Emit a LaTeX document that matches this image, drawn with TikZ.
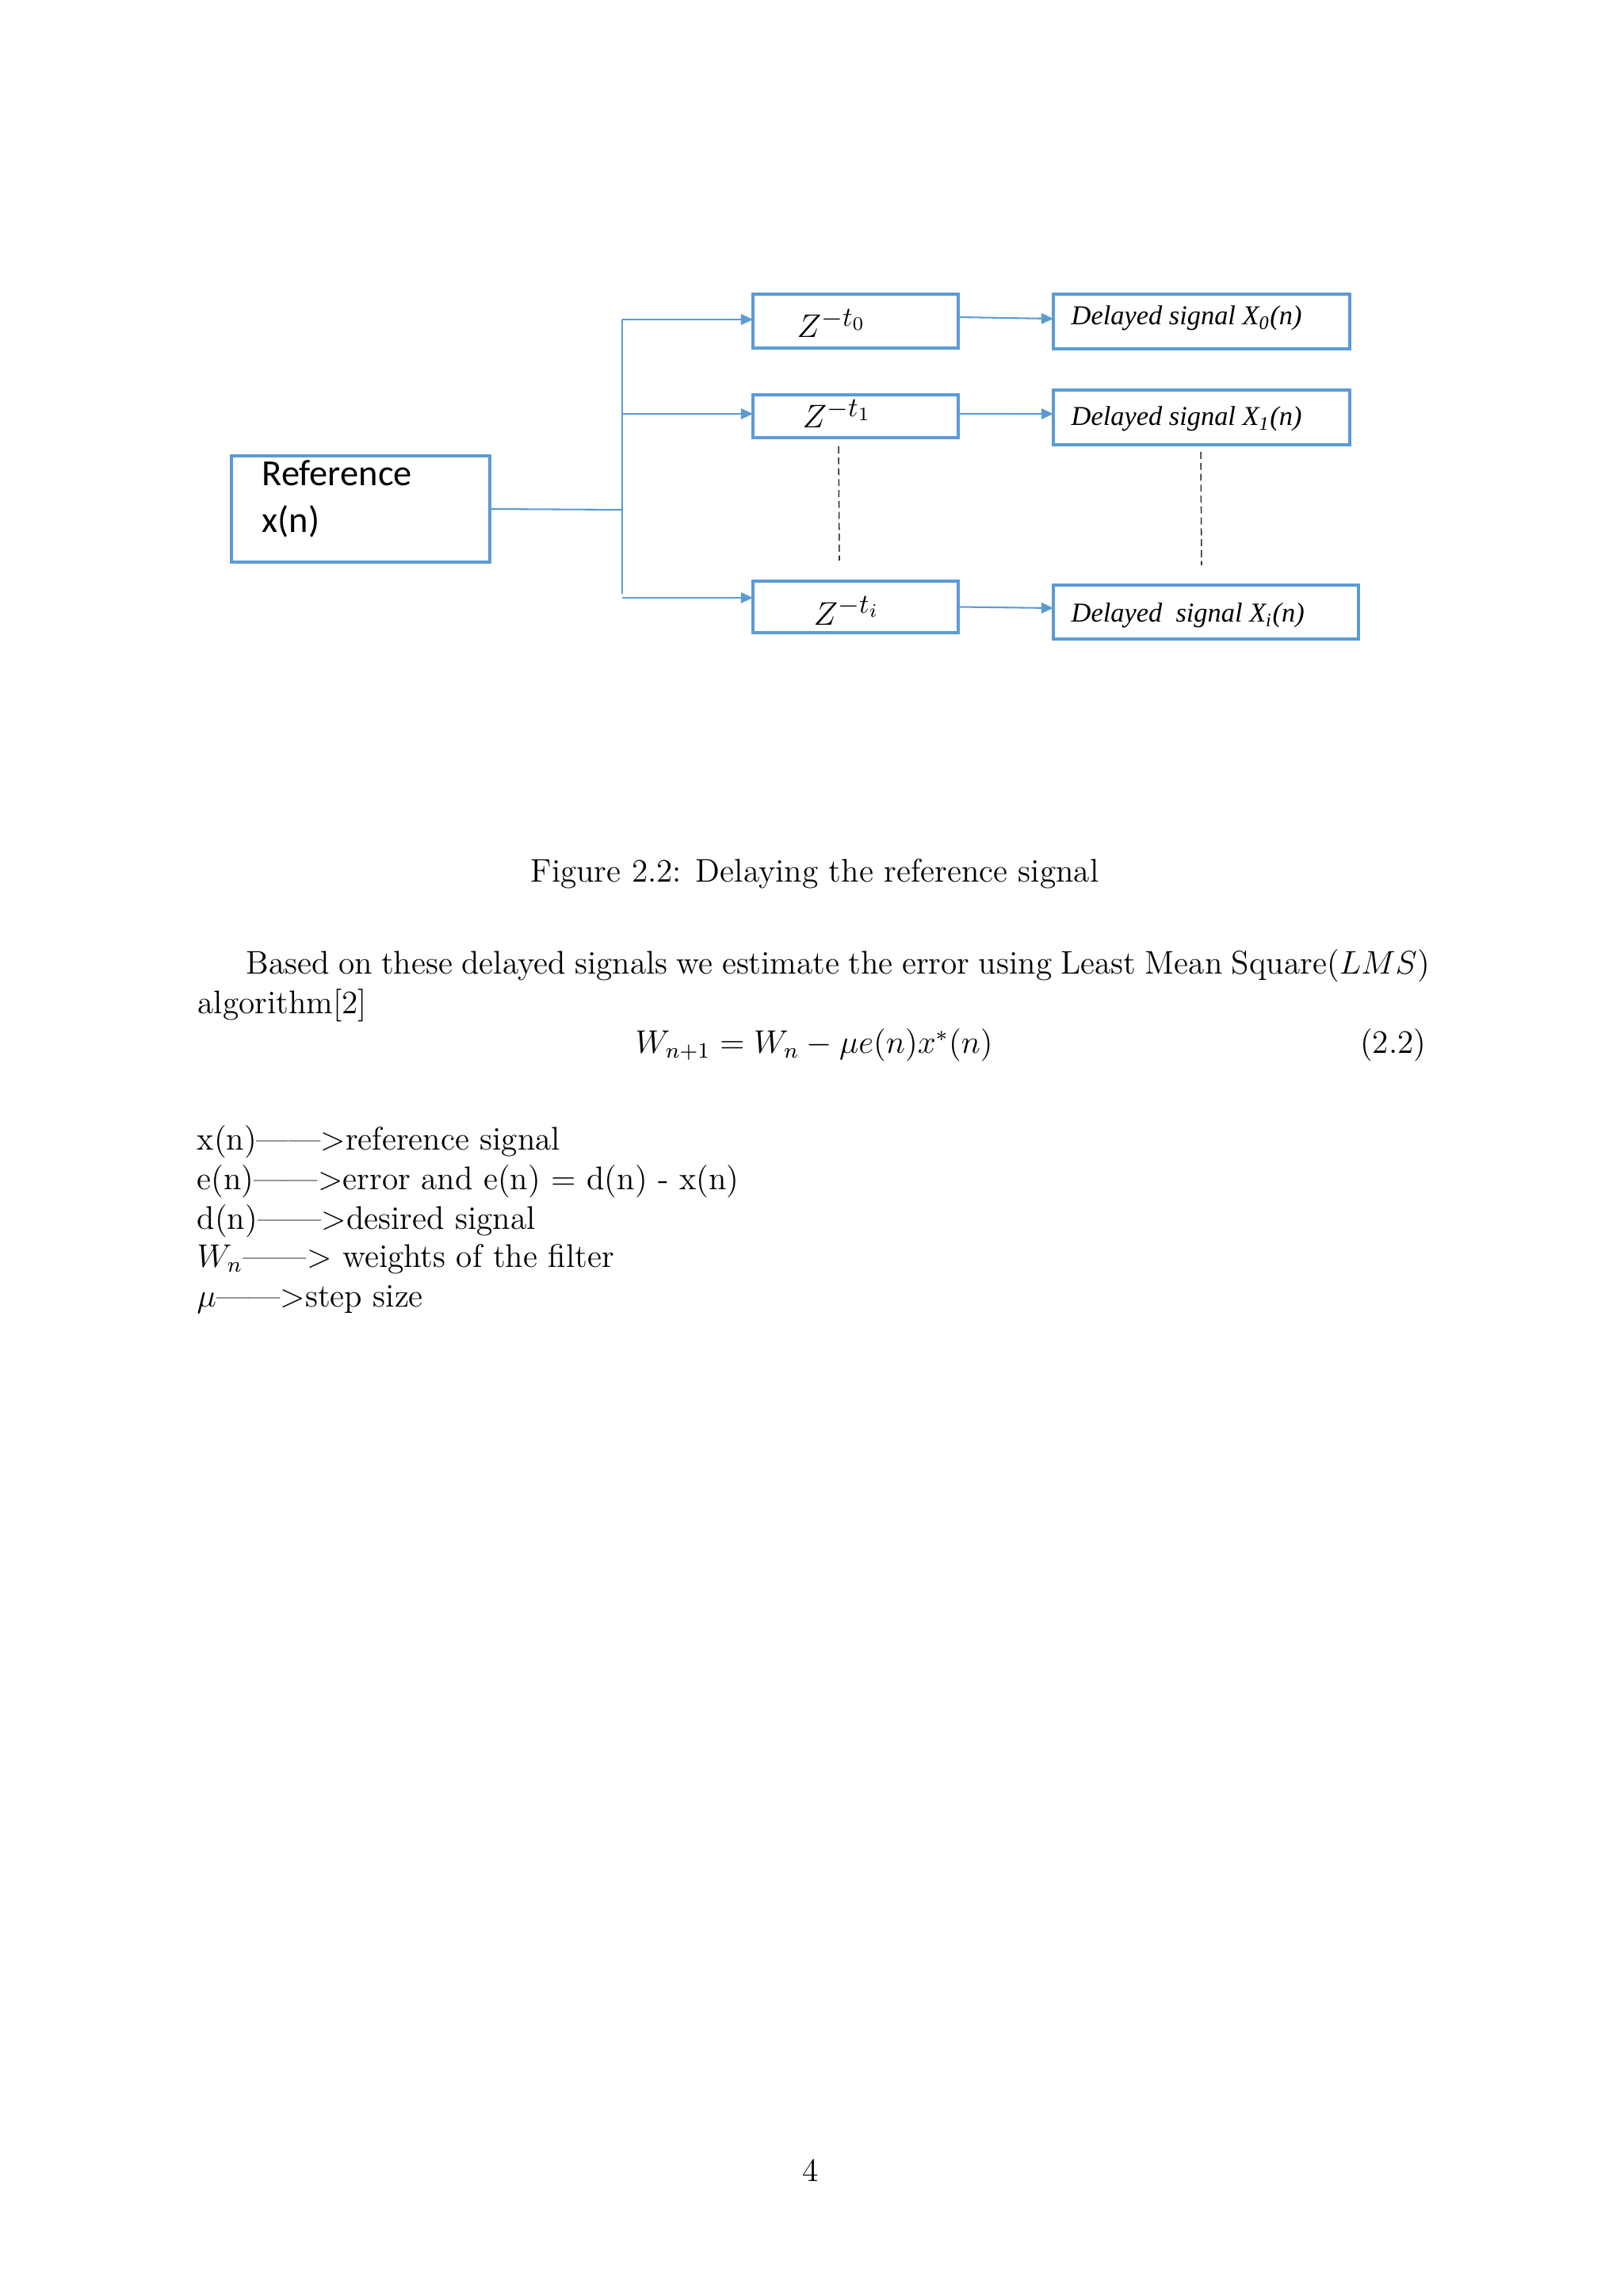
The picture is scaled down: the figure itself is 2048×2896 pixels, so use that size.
\documentclass[tikz,border=0pt]{standalone}
\usepackage{fontspec}
\newfontfamily\calfont{Carlito}
\newfontfamily\camfont{Liberation Serif}
\usetikzlibrary{arrows.meta}
\definecolor{boxblue}{HTML}{5B9BD5}
\DeclareMathSizes{12.5}{12.5}{9.8}{7.5}
\begin{document}
\begin{tikzpicture}[x=0.29068pt, y=-0.29068pt,
  box/.style={draw=boxblue, line width=1pt, inner sep=0pt, outer sep=0pt, rectangle},
  conn/.style={draw=boxblue, line width=0.6pt},
  arr/.style={conn, -{Triangle[length=4.4pt,width=3.9pt]}},
  dots/.style={draw=black!80, line width=0.45pt, dash pattern=on 2.6pt off 1.4pt},
  body/.style={font=\fontsize{12}{14.5}\selectfont, inner sep=0pt, anchor=base west},
  dlab/.style={font=\camfont\itshape\fontsize{10}{12}\selectfont, inner sep=0pt, anchor=base west},
  zlab/.style={font=\fontsize{12.5}{15}\selectfont, inner sep=0pt, anchor=base west},
  rlab/.style={font=\calfont\fontsize{13.5}{16}\selectfont, inner sep=0pt, anchor=base west}]
\useasboundingbox[fill=white] (0,0) rectangle (2048,2896);

% boxes
\node[box, minimum width={326*0.29068pt}, minimum height={134*0.29068pt}] (ref) at (455,642) {};
\node[box, minimum width={259*0.29068pt}, minimum height={68*0.29068pt}] (z0) at (1079.5,405) {};
\node[box, minimum width={259*0.29068pt}, minimum height={54*0.29068pt}] (z1) at (1079.5,525) {};
\node[box, minimum width={259*0.29068pt}, minimum height={65*0.29068pt}] (zi) at (1079.5,765.5) {};
\node[box, minimum width={374*0.29068pt}, minimum height={69*0.29068pt}] (d0) at (1516,405.5) {};
\node[box, minimum width={374*0.29068pt}, minimum height={69*0.29068pt}] (d1) at (1516,526.5) {};
\node[box, minimum width={385*0.29068pt}, minimum height={68*0.29068pt}] (di) at (1521.5,772) {};

% box texts
\node[rlab] (reft1) at (330,613) {Reference};
\node[rlab] (reft2) at (330,672) {x(n)};
\node[zlab] (z0t) at (1005,426) {$Z^{-t_0}$};
\node[zlab] (z1t) at (1012,540) {$Z^{-t_1}$};
\node[zlab] (zit) at (1026,788) {$Z^{-t_i}$};
\node[dlab] (d0t) at (1351,410) {Delayed signal X\textsubscript{0}(n)};
\node[dlab] (d1t) at (1351,537) {Delayed signal X\textsubscript{1}(n)};
\node[dlab] (dit) at (1351,785) {Delayed\ \ signal X\textsubscript{i}(n)};

% connectors
\coordinate (sp) at (785,643);
\coordinate (b0) at (785,403);
\coordinate (b1) at (785,522);
\coordinate (bi) at (785,754);
\coordinate (bend) at (785,749);
\draw[conn] (ref.east) -- (sp);
\draw[conn] (b0) -- (bend);
\draw[arr] (b0) -- (b0 -| z0.west);
\draw[arr] (b1) -- (b1 -| z1.west);
\draw[arr] (bi) -- (bi -| zi.west);
\draw[arr] ([yshift=1.45pt]z0.east) -- ([yshift=1pt]d0.west);
\draw[arr] ([yshift=0.9pt]z1.east) -- ([yshift=1.3pt]d1.west);
\draw[arr] (zi.east) -- ([yshift=1.45pt]di.west);

% dotted continuation
\coordinate (v1a) at (1058,563);
\coordinate (v1b) at (1059,707);
\coordinate (v2a) at (1515,570);
\coordinate (v2b) at (1516,713);
\draw[dots] (v1a) -- (v1b);
\draw[dots] (v2a) -- (v2b);

% page text
\node[body] (cap) at (669,1112) {Figure 2.2: Delaying the reference signal};
\node[body] (par1) at (310,1228) {\hbox to 434pt{Based on these delayed signals we estimate the error using Least Mean Square($LMS$)}};
\node[body] (par2) at (249,1278) {algorithm[2]};
\node[body] (eq) at (801,1328) {$W_{n+1} = W_n - \mu e(n)x^*(n)$};
\node[body, anchor=base east] (eqn) at (1800,1328) {(2.2)};
\node[body] (l1) at (248,1450) {x(n)\textemdash\textemdash>reference signal};
\node[body] (l2) at (248,1500) {e(n)\textemdash\textemdash>error and e(n) = d(n) - x(n)};
\node[body] (l3) at (248,1550) {d(n)\textemdash\textemdash>desired signal};
\node[body] (l4) at (248,1598) {$W_n$\textemdash\textemdash> weights of the filter};
\node[body] (l5) at (248,1648) {$\mu$\textemdash\textemdash>step size};
\node[body, anchor=base] (pg) at (1023,2751) {4};
\end{tikzpicture}
\end{document}
